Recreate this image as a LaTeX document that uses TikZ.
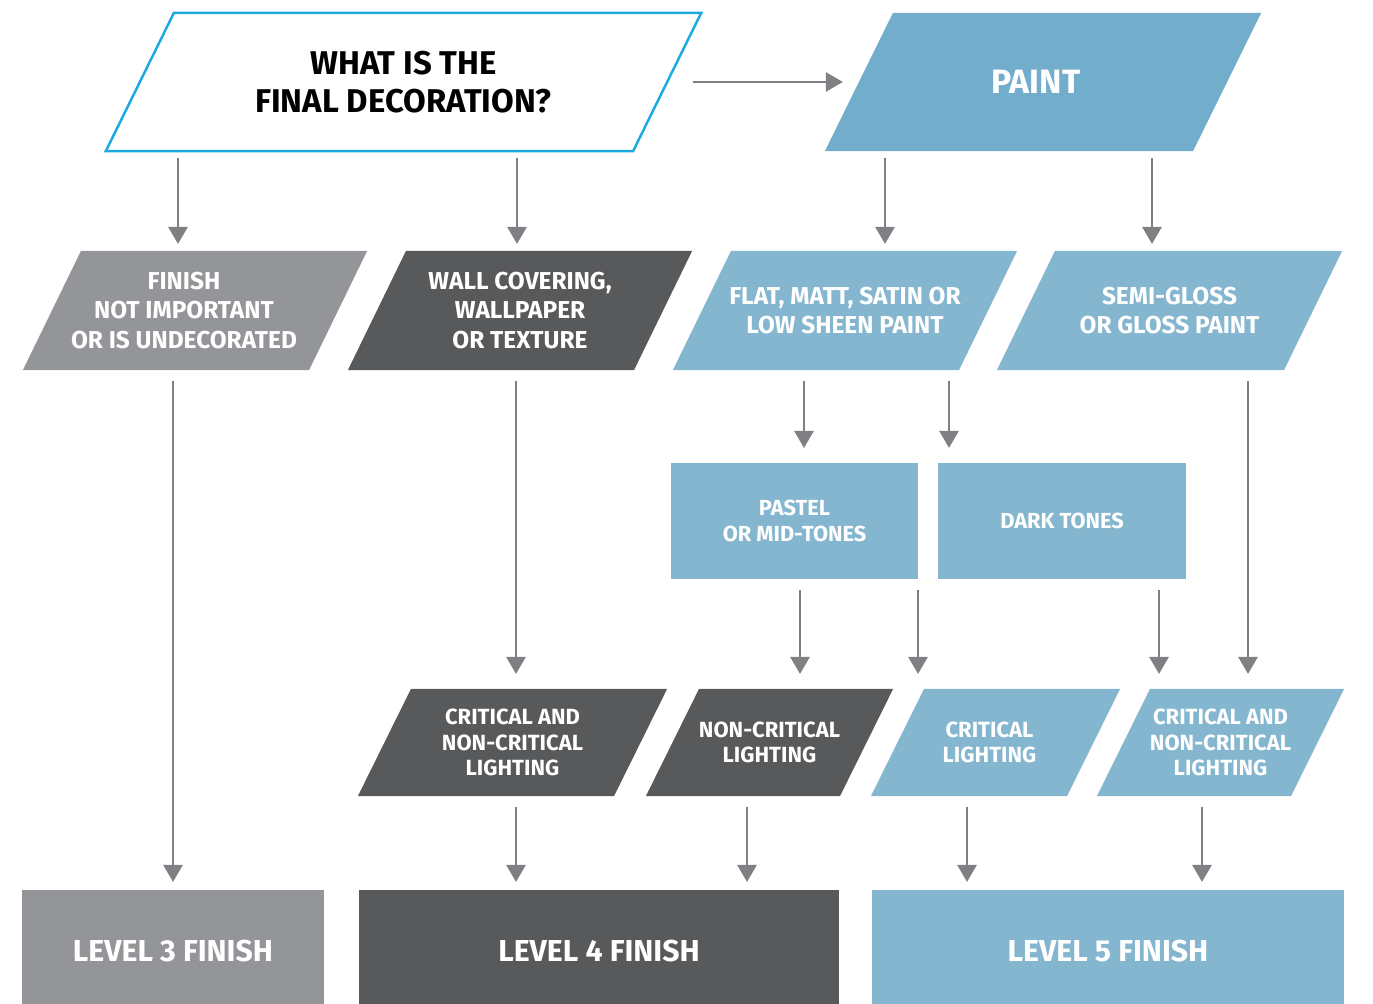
\documentclass[tikz,border=0pt]{standalone}
\usepackage{fontspec}
\newfontfamily\knauf{Fira Sans}
\usetikzlibrary{arrows.meta}
\definecolor{kgray}{HTML}{939598}
\definecolor{kdark}{HTML}{58595B}
\definecolor{kblue}{HTML}{84B6CF}
\definecolor{kpaint}{HTML}{72ADCB}
\definecolor{kcyan}{HTML}{1BA9E1}
\definecolor{karrow}{HTML}{7F8084}
\newcommand{\fs}[2]{\knauf\bfseries\fontsize{#1}{#2}\selectfont}
\tikzset{para/.style 2 args={path picture={
  \fill[#1] ([xshift=#2]path picture bounding box.north west) -- (path picture bounding box.north east)
    -- ([xshift=-#2]path picture bounding box.south east) -- (path picture bounding box.south west) -- cycle;}}}
\begin{document}
\begin{tikzpicture}[x=0.01cm,y=-0.01cm]
        \tikzstyle{every node}=[inner sep=0pt,outer sep=0pt,align=center,text=white];
        \tikzstyle{arr}=[draw=karrow,line width=0.75pt,-{Triangle[width=0.19cm,length=0.17cm]},shorten <=0.11cm,shorten >=0.11cm];
        \useasboundingbox (0,0) rectangle (1373,1003);
        \clip (0,0) rectangle (1373,1003);

        % top row
        \node(q)[text=black,minimum width=5.95cm,minimum height=1.38cm,font=\fs{9.35}{10.9}] at (403.5,82) {WHAT IS THE\\FINAL DECORATION?};
        \draw[kcyan,line width=0.7pt] ([xshift=0.68cm]q.north west) -- (q.north east) -- ([xshift=-0.68cm]q.south east) -- (q.south west) -- cycle;
        \node(paint)[para={kpaint}{0.68cm},minimum width=4.36cm,minimum height=1.38cm,font=\fs{9.6}{11}] at (1043,82) {\hspace*{-0.14cm}PAINT};

        % second row
        \node(fin)[para={kgray}{0.58cm},minimum width=3.44cm,minimum height=1.19cm,font=\fs{6.95}{8.3}] at (195,310.5) {\hspace*{-0.22cm}FINISH\\\hspace*{-0.22cm}NOT IMPORTANT\\\hspace*{-0.22cm}OR IS UNDECORATED};
        \node(wall)[para={kdark}{0.58cm},minimum width=3.44cm,minimum height=1.19cm,font=\fs{6.95}{8.3}] at (520,310.5) {WALL COVERING,\\WALLPAPER\\OR TEXTURE};
        \node(flat)[para={kblue}{0.58cm},minimum width=3.44cm,minimum height=1.19cm,font=\fs{6.95}{8.3}] at (845,310.5) {FLAT, MATT, SATIN OR\\LOW SHEEN PAINT};
        \node(semi)[para={kblue}{0.58cm},minimum width=3.45cm,minimum height=1.19cm,font=\fs{6.95}{8.3}] at (1169.5,310.5) {SEMI-GLOSS\\OR GLOSS PAINT};

        % tones
        \node(pastel)[fill=kblue,minimum width=2.47cm,minimum height=1.16cm,font=\fs{6.2}{7.4}] at (794.5,521) {PASTEL\\OR MID-TONES};
        \node(dark)[fill=kblue,minimum width=2.48cm,minimum height=1.16cm,font=\fs{6.2}{7.4}] at (1062,521) {DARK TONES};

        % lighting
        \node(cndark)[para={kdark}{0.53cm},minimum width=3.09cm,minimum height=1.07cm,font=\fs{6.25}{7.3}] at (512.5,742.5) {CRITICAL AND\\NON-CRITICAL\\LIGHTING};
        \node(ncdark)[para={kdark}{0.53cm},minimum width=2.47cm,minimum height=1.07cm,font=\fs{6.25}{7.3}] at (769.5,742.5) {NON-CRITICAL\\LIGHTING};
        \node(crit)[para={kblue}{0.53cm},minimum width=2.49cm,minimum height=1.07cm,font=\fs{6.25}{7.3}] at (995.5,742.5) {\hspace*{-0.12cm}CRITICAL\\\hspace*{-0.12cm}LIGHTING};
        \node(cnblue)[para={kblue}{0.53cm},minimum width=2.47cm,minimum height=1.07cm,font=\fs{6.25}{7.3}] at (1220.5,742.5) {CRITICAL AND\\NON-CRITICAL\\LIGHTING};

        % levels
        \node(l3)[fill=kgray,minimum width=3.02cm,minimum height=1.22cm,font=\fs{8.6}{9}] at (173,951) {LEVEL 3 FINISH};
        \node(l4)[fill=kdark,minimum width=4.80cm,minimum height=1.22cm,font=\fs{8.6}{9}] at (599,951) {LEVEL 4 FINISH};
        \node(l5)[fill=kblue,minimum width=4.72cm,minimum height=1.22cm,font=\fs{8.6}{9}] at (1108,951) {LEVEL 5 FINISH};

        \draw[arr,shorten <=0cm,shorten >=0cm] ([xshift=-0.08cm]q.east) -- ([xshift=0.18cm]paint.west);
        \foreach \a/\b/\x in {q/fin/178,q/wall/517,paint/flat/885,paint/semi/1152}{
          \draw[arr,shorten <=0.07cm,shorten >=0.07cm] (\x,0|-\a.south) -- (\x,0|-\b.north);
        }
        \foreach \a/\b/\x in {flat/pastel/804,flat/dark/949,wall/cndark/516,semi/cnblue/1248,
                              pastel/ncdark/800,pastel/crit/918,dark/cnblue/1159}{
          \draw[arr,shorten >=0.15cm] (\x,0|-\a.south) -- (\x,0|-\b.north);
        }
        \foreach \a/\b/\x in {fin/l3/173,cndark/l4/516,ncdark/l4/747,crit/l5/967,cnblue/l5/1202}{
          \draw[arr,shorten >=0.08cm] (\x,0|-\a.south) -- (\x,0|-\b.north);
        }
      \end{tikzpicture}
\end{document}
